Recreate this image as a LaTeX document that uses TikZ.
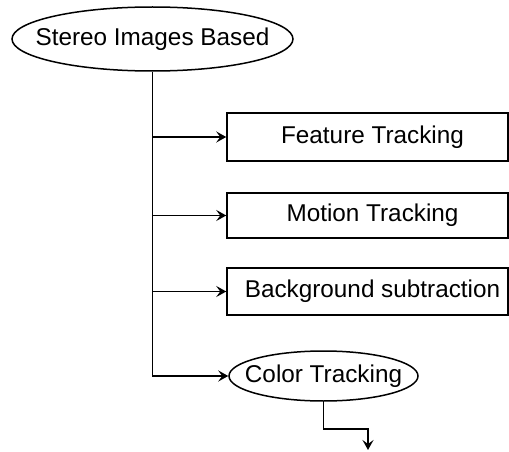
\documentclass[tikz,border=0pt]{standalone}
\usepackage{fontspec}
\setmainfont{Liberation Sans}
\usetikzlibrary{shapes.geometric,arrows.meta}
\begin{document}
\begin{tikzpicture}[x=1pt,y=-1pt,
  every node/.style={font=\fontsize{24.3}{29}\selectfont, inner sep=0pt},
  oval/.style={draw, line width=1.5pt, ellipse},
  stagebox/.style={draw, line width=1.5pt, rectangle, minimum width=281pt,
    execute at begin node=\hspace*{10pt}},
  link/.style={line width=1.6pt, -{Stealth[length=10pt,width=11pt,inset=4pt]}}]
  \useasboundingbox (0,0) rectangle (509,452);

  % root of the tree: outline first, caption on top
  \node[oval, minimum width=281pt, minimum height=64pt] (root) at (152.5,39) {};
  \node (rootlabel) at (root.center) {Stereo Images Based};

  % tracking methods
  \node[stagebox, minimum height=48pt] (feat) at (367.5,137) {Feature Tracking};
  \node[stagebox, minimum height=45pt] (motion) at (367.5,215.5) {Motion Tracking};
  \node[stagebox, minimum height=47pt] (bg) at (367.5,291.5) {Background subtraction};
  \node[oval, minimum width=189pt, minimum height=50pt] (color) at (323.5,376) {};
  \node (colorlabel) at (color.center) {Color Tracking};

  \coordinate (out) at (368,450);

  % trunk and branches
  \draw[link] (root.south) |- (color.west);
  \draw[link] (root.south |- feat.west) -- (feat.west);
  \draw[link] (root.south |- motion.west) -- (motion.west);
  \draw[link] (root.south |- bg.west) -- (bg.west);

  % outgoing step
  \draw[link] (color.south) -- ++(0,27) -| (out);
\end{tikzpicture}
\end{document}
